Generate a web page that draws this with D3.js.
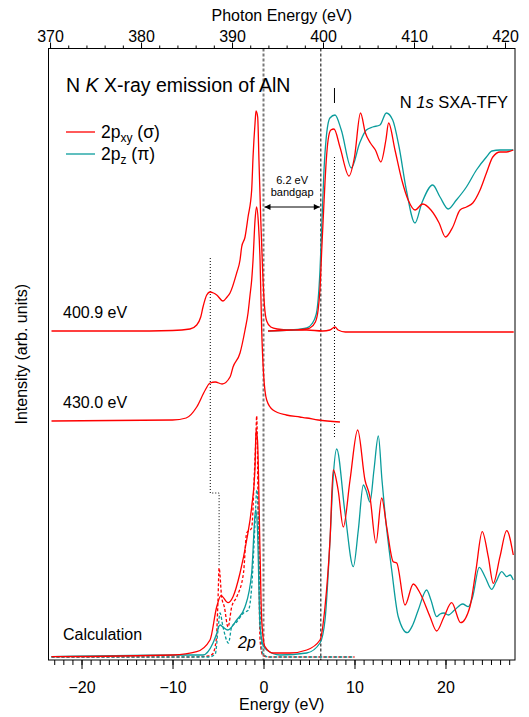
<!DOCTYPE html>
<html>
<head>
<meta charset="utf-8">
<script src="https://cdn.jsdelivr.net/npm/d3@7"></script>
<style>
body { margin: 0; background: #fff; }
svg { font-family: "Liberation Sans", Arial, Helvetica, sans-serif; }
</style>
</head>
<body>
<div id="chart"></div>
<script>
const W = 529, H = 717
const margin = {left: 48.5, right: 14, top: 48.5, bottom: 57}

const RED = '#ff0000'
const TEAL = '#0a9c9c'

// tick labels
const energyTicks = [-20, -10, 0, 10, 20]
const photonTicks = [370, 380, 390, 400, 410, 420]
const photonOffset = 393.46

// [energy (eV), intensity (arb. units)]
const sxaSigma = [[0.5,32.9],[3,33.0],[4.75,33.1],[5.1,33.2],[5.7,33.8],[6.0,35.0],[6.2,37.0],[6.4,41.0],[6.66,46.0],[6.9,50.0],[7.1,52.0],[7.4,53.0],[7.75,53.1],[8.4,51.3],[9.4,48.4],[10.0,50.3],[10.66,54.7],[11.2,52.7],[11.75,51.7],[12.3,51.0],[12.9,49.8],[13.45,52.0],[13.75,53.7],[14.45,51.0],[15.2,48.0],[15.9,46.0],[16.65,45.0],[17.5,45.6],[18.4,45.0],[19.3,43.7],[20.0,42.3],[20.8,43.3],[21.6,45.0],[22.3,45.3],[23.0,45.7],[23.8,47.0],[24.5,48.7],[25.2,50.3],[26.0,50.8],[26.7,50.8],[27.45,51.0]]
const sxaPi = [[0.5,32.9],[3,33.0],[4.75,33.2],[5.3,33.6],[5.8,34.6],[6.0,36.0],[6.21,39.0],[6.43,44.0],[6.65,49.0],[6.87,52.0],[7.3,54.2],[7.86,54.5],[8.55,53.0],[9.65,49.2],[10.57,51.7],[11.3,53.0],[12.0,53.3],[12.8,53.5],[13.5,54.7],[14.2,54.0],[14.9,51.3],[15.7,47.0],[16.65,43.7],[17.4,45.7],[18.6,47.5],[19.4,46.3],[20.3,45.1],[21.2,46.0],[22.3,47.3],[23.4,49.0],[24.5,50.3],[25.1,50.9],[26.0,51.0],[27.45,51.0]]

const em4009 = [[-23.3,32.9],[-15,32.9],[-10,32.95],[-8.08,33.1],[-7.34,33.5],[-6.9,34.3],[-6.65,35.3],[-6.24,36.5],[-5.88,36.8],[-5.5,36.7],[-5.14,36.5],[-4.45,35.9],[-4.0,36.3],[-3.68,36.7],[-2.95,38.7],[-2.58,40.0],[-2.40,41.3],[-2.03,42.3],[-1.70,44.3],[-1.30,47.0],[-1.15,50.3],[-0.93,53.7],[-0.82,54.9],[-0.64,54.3],[-0.5,50.0],[-0.3,44.0],[-0.1,39.0],[0.1,35.5],[0.35,33.9],[0.8,33.3],[1.5,33.1],[2.91,33.0],[4.75,33.0],[6.5,32.9],[7.3,33.0],[7.64,33.2],[7.86,33.3],[8.2,33.0],[9,32.8],[27.5,32.8]]
const em4300 = [[-23.3,23.9],[-10,24.0],[-8.5,24.2],[-7.34,25.3],[-6.4,27.0],[-5.88,27.7],[-5.3,27.8],[-4.55,27.6],[-3.68,28.3],[-3.35,29.3],[-2.58,30.7],[-2.03,33.0],[-1.70,34.7],[-1.48,36.5],[-1.3,38.0],[-1.15,40.0],[-0.93,44.0],[-0.76,45.3],[-0.55,43.5],[-0.38,40.0],[-0.2,33.0],[0,28.7],[0.35,26.0],[1.04,25.0],[2.5,24.5],[4,24.3],[4.75,24.2],[6,24.0],[8.4,23.8]]

const calcSigma = [[-23.3,0.33],[-9.95,0.5],[-7.34,0.83],[-5.88,2.0],[-5.14,5.33],[-4.67,6.43],[-3.90,5.73],[-3.35,6.33],[-2.58,8.7],[-1.85,12.0],[-1.30,15.3],[-0.93,19.3],[-0.82,23.0],[-0.66,22.0],[-0.38,10.7],[-0.2,4.0],[0.16,1.33],[1.04,0.7],[2.91,0.7],[4.75,1.0],[6.21,2.0],[6.76,5.33],[7.31,12.0],[7.67,19.0],[8.2,17.0],[8.77,13.3],[9.51,18.0],[10.35,23.0],[11.15,18.0],[11.70,16.3],[12.36,11.7],[12.99,16.2],[13.54,13.3],[14.26,9.83],[14.64,9.7],[15.55,5.5],[16.46,7.6],[17.2,6.7],[18.3,4.33],[19.03,2.9],[19.84,4.33],[20.68,5.73],[21.67,3.73],[22.69,5.33],[23.35,9.0],[24.04,12.83],[24.70,10.33],[25.25,7.67],[25.99,10.33],[26.73,12.93],[27.45,10.5]]
const calcPi = [[-23.3,0.33],[-8,0.5],[-6.65,0.5],[-5.55,1.7],[-5.2,2.5],[-4.78,3.5],[-4.45,3.3],[-3.93,3.0],[-2.95,4.0],[-2.03,5.33],[-1.30,8.7],[-0.93,14.5],[-0.85,15.0],[-0.66,13.0],[-0.38,3.33],[-0.05,1.5],[0.35,1.0],[1.81,0.5],[4.75,0.7],[6.21,1.7],[6.76,4.0],[7.31,12.0],[7.64,18.0],[8.04,21.1],[8.96,14.7],[9.87,9.33],[10.42,13.0],[10.97,17.5],[11.26,17.0],[11.70,15.8],[12.14,19.0],[12.62,22.4],[13.02,18.0],[13.35,14.7],[14.09,9.0],[14.81,4.33],[15.80,2.73],[16.4,3.5],[17.01,5.0],[17.93,7.0],[18.4,6.0],[19.03,4.33],[19.4,4.6],[19.84,4.7],[20.31,4.5],[21.0,5.0],[21.89,5.6],[22.51,5.33],[22.99,6.33],[23.71,9.27],[24.34,8.33],[25.08,7.07],[25.55,7.8],[26.18,8.83],[26.73,8.33],[27.1,8.5],[27.45,8.0]]
const calcSigmaDash = [[-23.3,0.3],[-8,0.3],[-6.0,0.4],[-5.6,0.6],[-5.2,2.0],[-5.0,6.0],[-4.88,9.2],[-4.6,6.3],[-4.3,5.3],[-3.9,3.3],[-3.5,5.3],[-2.95,6.3],[-2.2,8.7],[-1.85,12.7],[-1.3,13.2],[-1.0,18.7],[-0.85,22.0],[-0.75,24.4],[-0.55,12.0],[-0.38,2.0],[-0.1,0.5],[0.5,0.3],[10,0.3]]
const calcPiDash = [[-23.3,0.3],[-6,0.3],[-5.3,0.6],[-5.0,3.0],[-4.78,4.7],[-4.45,3.3],[-3.85,1.7],[-3.5,3.3],[-2.95,3.8],[-2.2,4.7],[-1.65,5.0],[-1.3,7.3],[-0.93,13.7],[-0.74,17.0],[-0.5,12.0],[-0.38,5.3],[-0.1,0.7],[0.5,0.3],[10,0.3]]

// guide lines
const vbmEnergy = 0
const cbmEnergy = 6.3
const dotLeft = [[-5.85,40.2],[-5.85,16.7],[-4.88,16.7],[-4.88,9.3]]
const dotRight = [[7.8,50.3],[7.8,22.2]]
const markRight = [[7.8,57.2],[7.8,55.7]]
const gapLevel = 45.3

const x = d3.scaleLinear()
    .domain([-23.63, 27.64])
    .range([margin.left, W - margin.right])
const xTop = d3.scaleLinear()
    .domain([-23.63 + photonOffset, 27.64 + photonOffset])
    .range([margin.left, W - margin.right])
const y = d3.scaleLinear()
    .domain([0, 61.15])
    .range([H - margin.bottom, margin.top])

const svg = d3.select('#chart')
    .append('svg')
    .attr('width', W)
    .attr('height', H)

svg.append('defs').append('marker')
    .attr('id', 'arrow')
    .attr('viewBox', '0 0 10 10')
    .attr('refX', 10).attr('refY', 5)
    .attr('markerWidth', 8).attr('markerHeight', 6)
    .attr('markerUnits', 'userSpaceOnUse')
    .attr('orient', 'auto-start-reverse')
    .append('path')
    .attr('d', 'M0,0L10,5L0,10z')
    .attr('fill', '#000')

const line = d3.line()
    .x(d => x(d[0]))
    .y(d => y(d[1]))
    .curve(d3.curveMonotoneX)
const straight = d3.line()
    .x(d => x(d[0]))
    .y(d => y(d[1]))

// vertical guides
svg.append('line')
    .attr('x1', x(vbmEnergy)).attr('x2', x(vbmEnergy))
    .attr('y1', y(61.15)).attr('y2', y(0))
    .attr('stroke', '#7a7a7a').attr('stroke-width', 2).attr('stroke-dasharray', '3,2')
svg.append('line')
    .attr('x1', x(cbmEnergy)).attr('x2', x(cbmEnergy))
    .attr('y1', y(61.15)).attr('y2', y(0))
    .attr('stroke', '#000').attr('stroke-width', 1).attr('stroke-dasharray', '3,2')
svg.append('path').attr('d', straight(dotLeft))
    .attr('fill', 'none').attr('stroke', '#000').attr('stroke-width', 1).attr('stroke-dasharray', '1,2')
svg.append('path').attr('d', straight(dotRight))
    .attr('fill', 'none').attr('stroke', '#000').attr('stroke-width', 1).attr('stroke-dasharray', '1,2')
svg.append('path').attr('d', straight(markRight))
    .attr('fill', 'none').attr('stroke', '#000').attr('stroke-width', 1)

// bandgap arrow
svg.append('line')
    .attr('x1', x(vbmEnergy) + 1).attr('x2', x(cbmEnergy) - 1)
    .attr('y1', y(gapLevel)).attr('y2', y(gapLevel))
    .attr('stroke', '#000').attr('stroke-width', 1)
    .attr('marker-start', 'url(#arrow)').attr('marker-end', 'url(#arrow)')
svg.append('text')
    .attr('x', x((vbmEnergy + cbmEnergy) / 2)).attr('y', 184)
    .attr('text-anchor', 'middle').style('font-size', '11px')
    .text('6.2 eV')
svg.append('text')
    .attr('x', x((vbmEnergy + cbmEnergy) / 2)).attr('y', 196)
    .attr('text-anchor', 'middle').style('font-size', '11px')
    .text('bandgap')

// spectra
const series = [
    {d: calcSigmaDash, c: RED, dash: '3,2'},
    {d: calcPiDash, c: TEAL, dash: '3,2'},
    {d: calcPi, c: TEAL},
    {d: calcSigma, c: RED},
    {d: em4300, c: RED},
    {d: em4009, c: RED},
    {d: sxaPi, c: TEAL},
    {d: sxaSigma, c: RED}
]
svg.selectAll('path.spec')
    .data(series)
    .join('path')
    .attr('class', 'spec')
    .attr('d', s => line(s.d))
    .attr('fill', 'none')
    .attr('stroke', s => s.c)
    .attr('stroke-width', 1.3)
    .attr('stroke-dasharray', s => s.dash || null)

// frame
svg.append('rect')
    .attr('x', margin.left).attr('y', margin.top)
    .attr('width', W - margin.left - margin.right)
    .attr('height', H - margin.top - margin.bottom)
    .attr('fill', 'none').attr('stroke', '#000').attr('stroke-width', 1)

// axes
function styleAxis(g) {
    g.select('.domain').remove()
    g.selectAll('text').style('font-size', '16px').attr('fill', '#000')
    g.selectAll('line').attr('stroke', '#000')
}
svg.append('g')
    .attr('transform', `translate(0,${H - margin.bottom})`)
    .call(d3.axisBottom(x).tickValues(d3.range(-23, 28, 1)).tickSize(5).tickFormat(''))
    .call(styleAxis)
svg.append('g')
    .attr('transform', `translate(0,${H - margin.bottom})`)
    .call(d3.axisBottom(x).tickValues(energyTicks).tickSize(9).tickPadding(13).tickFormat(d3.format('d')))
    .call(styleAxis)
svg.append('g')
    .attr('transform', `translate(0,${margin.top})`)
    .call(d3.axisTop(xTop).tickValues(d3.range(370, 421, 2)).tickSize(3).tickFormat(''))
    .call(styleAxis)
svg.append('g')
    .attr('transform', `translate(0,${margin.top})`)
    .call(d3.axisTop(xTop).tickValues(photonTicks).tickSize(6).tickPadding(1).tickFormat(d3.format('d')))
    .call(styleAxis)

svg.append('text')
    .attr('x', (margin.left + W - margin.right) / 2).attr('y', 21)
    .attr('text-anchor', 'middle').style('font-size', '16px')
    .text('Photon Energy (eV)')
svg.append('text')
    .attr('x', (margin.left + W - margin.right) / 2).attr('y', 710)
    .attr('text-anchor', 'middle').style('font-size', '16px')
    .text('Energy (eV)')
svg.append('text')
    .attr('transform', `translate(27,${(margin.top + H - margin.bottom) / 2}) rotate(-90)`)
    .attr('text-anchor', 'middle').style('font-size', '16px')
    .text('Intensity (arb. units)')

// annotations
const title = svg.append('text').attr('x', 66).attr('y', 92).style('font-size', '19.5px')
title.append('tspan').text('N ')
title.append('tspan').style('font-style', 'italic').text('K')
title.append('tspan').text(' X-ray emission of AlN')

const sxa = svg.append('text').attr('x', 508).attr('y', 108)
    .attr('text-anchor', 'end').style('font-size', '16.5px')
sxa.append('tspan').text('N ')
sxa.append('tspan').style('font-style', 'italic').text('1s')
sxa.append('tspan').text(' SXA-TFY')

svg.append('text').attr('x', 63).attr('y', 318).style('font-size', '16px').text('400.9 eV')
svg.append('text').attr('x', 63).attr('y', 408).style('font-size', '16px').text('430.0 eV')
svg.append('text').attr('x', 63).attr('y', 640).style('font-size', '16px').text('Calculation')
svg.append('text').attr('x', 238).attr('y', 648).style('font-size', '16px')
    .style('font-style', 'italic').text('2p')

// legend
const legend = [
    {c: RED, sub: 'xy', sym: 'σ'},
    {c: TEAL, sub: 'z', sym: 'π'}
]
const lg = svg.selectAll('g.leg')
    .data(legend)
    .join('g')
    .attr('class', 'leg')
    .attr('transform', (d, i) => `translate(66,${132 + i * 22})`)
lg.append('line')
    .attr('x1', 0).attr('x2', 29)
    .attr('stroke', d => d.c).attr('stroke-width', 1.3)
const lt = lg.append('text').attr('x', 35).attr('y', 6).style('font-size', '17.5px')
lt.append('tspan').text('2p')
lt.append('tspan').style('font-size', '12px').attr('dy', 4).text(d => d.sub)
lt.append('tspan').attr('dy', -4).text(d => ' (' + d.sym + ')')
</script>
</body>
</html>
